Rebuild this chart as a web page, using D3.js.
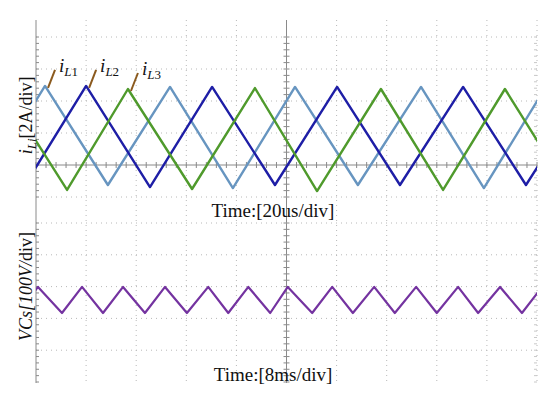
<!DOCTYPE html>
<html>
<head>
<meta charset="utf-8">
<script src="https://cdn.jsdelivr.net/npm/d3@7"></script>
<style>
    body { margin: 0; background: #fff; }
    text { font-family: "Liberation Serif", "Times New Roman", serif; fill: #111; }
</style>
</head>
<body>
<div id="scope"></div>
<script>
// top trace: inductor currents, time in us, current in A (vertices of the triangles)
const iL1Time = [-21.3, 3.6, 28.7, 53.5, 78.6, 103.4, 128.5, 153.7, 178.8, 203.6];
const iL1Amp = [-1.3, 4.94, -1.25, 4.88, -1.44, 4.88, -1.25, 4.88, -1.44, 4.9];
const iL2Time = [-4.6, 20.0, 45.5, 70.3, 95.4, 120.2, 145.3, 170.5, 195.6, 220.5];
const iL2Amp = [-1.3, 4.94, -1.38, 4.88, -1.25, 4.88, -1.25, 4.88, -1.25, 4.88];
const iL3Time = [-13.2, 12.4, 36.7, 62.3, 87.4, 112.2, 137.7, 162.5, 187.2, 212.4];
const iL3Amp = [4.75, -1.56, 4.75, -1.5, 4.81, -1.63, 4.75, -1.56, 4.75, -1.56];

// bottom trace: capacitor voltage, time in ms, voltage in V
const vcsTime = [-2.9, 0.32, 4.15, 7.35, 10.7, 13.9, 17.4, 20.6, 24.1, 27.5, 30.7, 33.9, 37.4,
    40.2, 44.1, 47.3, 50.6, 54.0, 57.3, 60.7, 64.0, 67.4, 70.6, 74.1, 77.6, 80.8];
const vcsVolt = [217, 299, 217, 299, 217, 299, 217, 299, 217, 299, 217, 299, 217,
    299, 217, 299, 217, 299, 217, 299, 217, 299, 217, 299, 217, 299];

const seriesLabels = ["L1", "L2", "L3"];
const seriesColors = ["#6795c0", "#1e1ea6", "#4f9a2c"];

const width = 550;
const height = 398;

const svg = d3.select("#scope")
    .append("svg")
    .attr("width", width)
    .attr("height", height);

const xTop = d3.scaleLinear().domain([0, 200]).range([36, 537]);
const xBot = d3.scaleLinear().domain([0, 80]).range([36, 537]);
const yTop = d3.scaleLinear().domain([-2, 8]).range([197, 37]);
const yBot = d3.scaleLinear().domain([0, 500]).range([382, 223]);
const frameTop = 20;
const frameBottom = 383;

const grid = svg.append("g").attr("class", "grid");

// vertical divisions
d3.range(20, 200.1, 20).forEach((t) => {
    grid.append("line")
        .attr("x1", xTop(t)).attr("x2", xTop(t))
        .attr("y1", frameTop).attr("y2", frameBottom)
        .attr("stroke", t === 100 ? "#8a8a8a" : "#b8b8b8")
        .attr("stroke-width", 1)
        .attr("stroke-dasharray", t === 100 ? null : "1,4");
});

// horizontal divisions
[-2, 2, 4, 6, 8].forEach((a) => {
    grid.append("line")
        .attr("x1", xTop(0)).attr("x2", xTop(200))
        .attr("y1", yTop(a)).attr("y2", yTop(a))
        .attr("stroke", "#b8b8b8")
        .attr("stroke-dasharray", "1,4");
});
[100, 200, 300, 400, 500].forEach((v) => {
    grid.append("line")
        .attr("x1", xBot(0)).attr("x2", xBot(80))
        .attr("y1", yBot(v)).attr("y2", yBot(v))
        .attr("stroke", "#b8b8b8")
        .attr("stroke-dasharray", "1,4");
});

// zero line of the current trace
grid.append("line")
    .attr("x1", xTop(0)).attr("x2", xTop(200))
    .attr("y1", yTop(0)).attr("y2", yTop(0))
    .attr("stroke", "#8a8a8a");

// left border
grid.append("line")
    .attr("x1", xTop(0)).attr("x2", xTop(0))
    .attr("y1", frameTop).attr("y2", frameBottom)
    .attr("stroke", "#8a8a8a");

// minor ticks on left border, center line and right border
const minorTop = d3.range(-2, 8.01, 0.4).filter((a) => yTop(a) >= frameTop);
const minorBot = d3.range(0, 500.1, 20);
const tickY = minorTop.map(yTop).concat(minorBot.map(yBot));
tickY.forEach((y) => {
    grid.append("line")
        .attr("x1", xTop(0)).attr("x2", xTop(0) + 3)
        .attr("y1", y).attr("y2", y)
        .attr("stroke", "#8a8a8a");
    grid.append("line")
        .attr("x1", xTop(100) - 3).attr("x2", xTop(100) + 3)
        .attr("y1", y).attr("y2", y)
        .attr("stroke", "#8a8a8a");
    grid.append("line")
        .attr("x1", xTop(200) - 3).attr("x2", xTop(200))
        .attr("y1", y).attr("y2", y)
        .attr("stroke", "#c8c8c8");
});
d3.range(0, 200.1, 4).forEach((t) => {
    grid.append("line")
        .attr("x1", xTop(t)).attr("x2", xTop(t))
        .attr("y1", yTop(0) - 3).attr("y2", yTop(0) + 3)
        .attr("stroke", "#8a8a8a");
});

// traces
svg.append("clipPath").attr("id", "clip")
    .append("rect")
    .attr("x", xTop(0)).attr("y", frameTop)
    .attr("width", xTop(200) - xTop(0)).attr("height", frameBottom - frameTop);

const traces = svg.append("g").attr("clip-path", "url(#clip)");

const currents = [
    d3.zip(iL1Time, iL1Amp),
    d3.zip(iL2Time, iL2Amp),
    d3.zip(iL3Time, iL3Amp)
];

const lineTop = d3.line().x((d) => xTop(d[0])).y((d) => yTop(d[1]));
const lineBot = d3.line().x((d) => xBot(d[0])).y((d) => yBot(d[1]));

currents.forEach((pts, i) => {
    traces.append("path")
        .attr("d", lineTop(pts))
        .attr("fill", "none")
        .attr("stroke", seriesColors[i])
        .attr("stroke-width", 2.4)
        .attr("stroke-linejoin", "round");
});

traces.append("path")
    .attr("d", lineBot(d3.zip(vcsTime, vcsVolt)))
    .attr("fill", "none")
    .attr("stroke", "#7433a0")
    .attr("stroke-width", 2.2)
    .attr("stroke-linejoin", "round");

// trace labels with leader lines from the first peak of each current
currents.forEach((pts, i) => {
    const peak = pts.find((d) => d[0] > 0 && d[1] > 0);
    const px = xTop(peak[0]);
    const py = yTop(peak[1]);
    svg.append("line")
        .attr("x1", px + 3).attr("y1", py + 2)
        .attr("x2", px + 10).attr("y2", py - 16)
        .attr("stroke", "#8b5a1e")
        .attr("stroke-width", 2);
    const t = svg.append("text")
        .attr("x", px + 14)
        .attr("y", py - 14)
        .style("font-size", "19px");
    t.append("tspan").style("font-style", "italic").text("i");
    t.append("tspan").attr("dy", 4).style("font-size", "13px")
        .style("font-style", "italic").text(seriesLabels[i][0]);
    t.append("tspan").style("font-size", "13px").text(seriesLabels[i].slice(1));
});

// axis titles
const yTitleTop = svg.append("text")
    .attr("transform", `translate(32,${yTop(3.1)}) rotate(-90)`)
    .attr("text-anchor", "middle")
    .style("font-size", "18px");
yTitleTop.append("tspan").style("font-style", "italic").text("i");
yTitleTop.append("tspan").attr("dy", 4).style("font-size", "13px")
    .style("font-style", "italic").text("Li");
yTitleTop.append("tspan").attr("dy", -4).text("[2A/div]");

const yTitleBot = svg.append("text")
    .attr("transform", `translate(32,${yBot(300)}) rotate(-90)`)
    .attr("text-anchor", "middle")
    .style("font-size", "18px");
yTitleBot.append("tspan").style("font-style", "italic").text("VCs[100V/");
yTitleBot.append("tspan").text("div]");

svg.append("text")
    .attr("x", 273)
    .attr("y", 217)
    .attr("text-anchor", "middle")
    .style("font-size", "19px")
    .text("Time:[20us/div]");

svg.append("text")
    .attr("x", 273)
    .attr("y", 381)
    .attr("text-anchor", "middle")
    .style("font-size", "19px")
    .text("Time:[8ms/div]");
</script>
</body>
</html>
